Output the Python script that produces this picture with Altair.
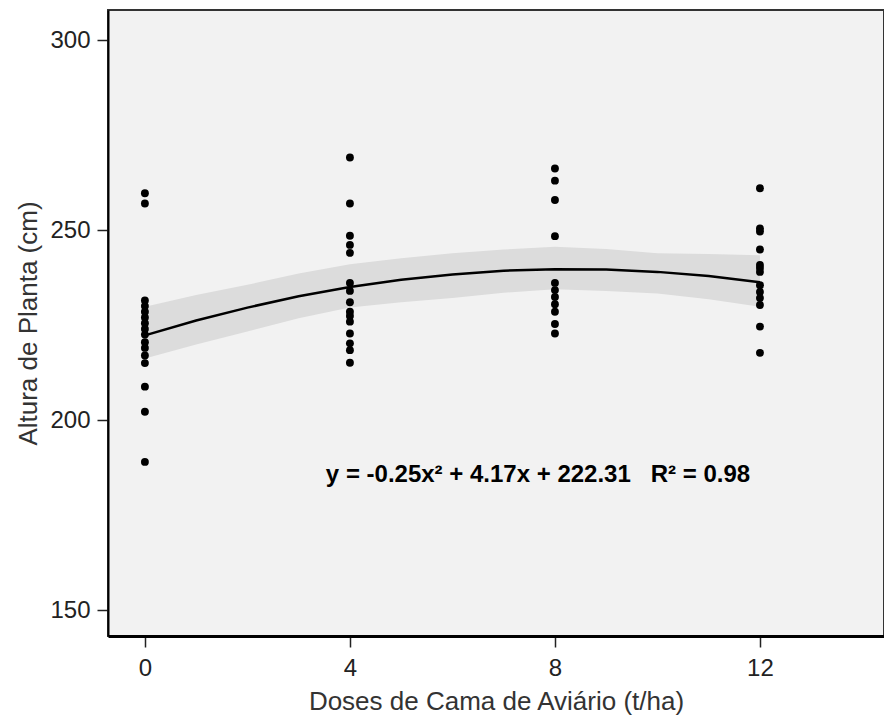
import altair as alt
import pandas as pd

# Observations (dose t/ha, plant height cm)
dose_0 = [259.7, 257.0, 231.5, 230.0, 228.5, 227.0, 225.5, 224.0, 222.5, 220.5, 219.0, 217.0, 215.0, 208.8, 202.2, 189.0]
dose_4 = [269.1, 257.0, 248.5, 246.1, 244.0, 236.1, 234.0, 231.0, 228.5, 227.4, 225.9, 222.8, 220.2, 218.4, 215.1]
dose_8 = [266.2, 263.0, 257.9, 248.4, 236.1, 234.2, 232.4, 230.5, 228.5, 225.3, 222.8]
dose_12 = [261.0, 250.4, 249.6, 244.9, 240.8, 240.0, 239.0, 235.5, 233.7, 232.1, 230.3, 224.6, 217.7]

# Fitted curve and confidence band
curve_x = [0, 1, 2, 3, 4, 5, 6, 7, 8, 9, 10, 11, 12]
curve_fit = [222.3, 226.2, 229.6, 232.6, 235.0, 236.9, 238.3, 239.3, 239.7, 239.6, 239.0, 237.9, 236.3]
band_low = [216.2, 219.9, 223.3, 226.8, 229.6, 231.0, 232.1, 233.5, 234.4, 234.0, 233.3, 231.8, 229.8]
band_high = [229.8, 232.9, 235.6, 238.6, 241.0, 242.6, 243.9, 244.9, 245.6, 245.0, 243.9, 243.7, 243.4]

NB = "\u00a0"
equation = "y = -0.25x\u00b2 + 4.17x + 222.31" + NB * 3 + "R\u00b2 = 0.98"
eq_x, eq_y = 7.67, 185.5

pts = pd.DataFrame(
    [{"dose": 0, "altura": v} for v in dose_0]
    + [{"dose": 4, "altura": v} for v in dose_4]
    + [{"dose": 8, "altura": v} for v in dose_8]
    + [{"dose": 12, "altura": v} for v in dose_12]
)
curve = pd.DataFrame({"dose": curve_x, "fit": curve_fit, "lo": band_low, "hi": band_high})
eq = pd.DataFrame({"dose": [eq_x], "altura": [eq_y], "label": [equation]})

xscale = alt.Scale(domain=[-0.72, 14.42], nice=False, zero=False)
yscale = alt.Scale(domain=[143.2, 307.9], nice=False, zero=False)

FONT = "Liberation Sans"

xaxis = alt.Axis(
    title="Doses de Cama de Aviário (t/ha)", values=[0, 4, 8, 12], grid=False,
    domainColor="black", domainWidth=3, tickColor="#222", tickWidth=1.5, tickSize=11,
    labelFont=FONT, labelFontSize=24, labelColor="#222", labelPadding=9,
    titleFont=FONT, titleFontSize=26, titleFontWeight="normal", titleColor="#333", titlePadding=8,
)
yaxis = alt.Axis(
    title="Altura de Planta (cm)", values=[150, 200, 250, 300], grid=False,
    domainColor="black", domainWidth=2, tickColor="#222", tickWidth=1.5, tickSize=11,
    labelFont=FONT, labelFontSize=24, labelColor="#222", labelPadding=7,
    titleFont=FONT, titleFontSize=26, titleFontWeight="normal", titleColor="#333", titlePadding=8,
)

band = alt.Chart(curve).mark_area(color="#DCDCDC", opacity=1).encode(
    x=alt.X("dose:Q", scale=xscale, axis=xaxis),
    y=alt.Y("lo:Q", scale=yscale, axis=yaxis),
    y2="hi:Q",
)
line = alt.Chart(curve).mark_line(color="black", strokeWidth=2.5).encode(
    x=alt.X("dose:Q", scale=xscale),
    y=alt.Y("fit:Q", scale=yscale),
)
points = alt.Chart(pts).mark_circle(color="black", size=62, opacity=1).encode(
    x=alt.X("dose:Q", scale=xscale),
    y=alt.Y("altura:Q", scale=yscale),
)
text = alt.Chart(eq).mark_text(
    font=FONT, fontSize=24, fontWeight="bold", color="black", align="center", baseline="middle"
).encode(
    x=alt.X("dose:Q", scale=xscale),
    y=alt.Y("altura:Q", scale=yscale),
    text="label:N",
)

chart = alt.layer(band, line, points, text).properties(
    width=776, height=626,
    autosize=alt.AutoSizeParams(type="none"),
    padding={"left": 108, "top": 10, "right": 0, "bottom": 81},
    background="white",
).configure_view(fill="#F2F2F2", stroke="#333", strokeWidth=2)

chart.save("out.html", embed_options={"renderer": "svg", "actions": False})
